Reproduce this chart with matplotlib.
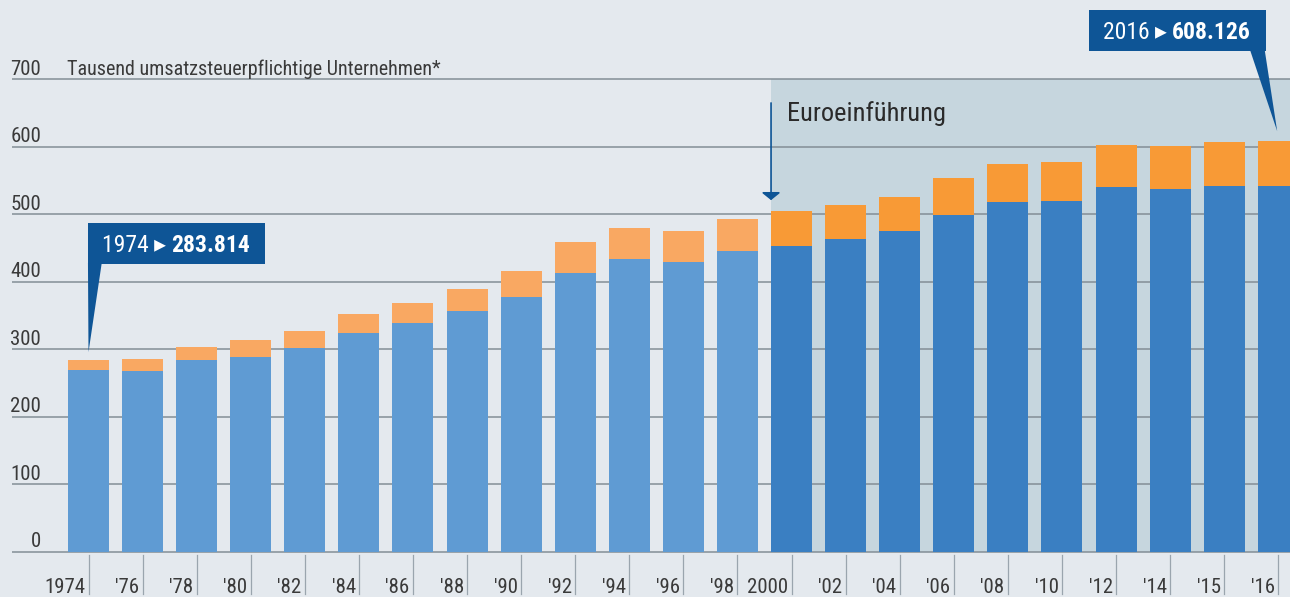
import matplotlib
matplotlib.use("Agg")
import matplotlib.pyplot as plt
from matplotlib import font_manager
from matplotlib.patches import Rectangle, Polygon

# data (thousands of VAT-liable companies)
labels = ['1974', "'76", "'78", "'80", "'82", "'84", "'86", "'88", "'90", "'92", "'94",
          "'96", "'98", '2000', "'02", "'04", "'06", "'08", "'10", "'12", "'14", "'15", "'16"]
base = [269.3, 267.9, 284.1, 288.6, 301.9, 324.1, 339.0, 356.7, 377.5, 413.0, 433.8,
        429.3, 445.6, 453.0, 463.4, 475.3, 499.0, 518.2, 519.7, 540.4, 537.5, 541.9, 541.9]
total = [283.814, 285.6, 303.4, 313.8, 327.1, 352.3, 368.6, 389.3, 416.0, 459.0, 479.7,
         475.0, 493.0, 504.9, 513.8, 525.6, 553.8, 574.5, 577.5, 602.7, 601.2, 607.0, 608.126]
yticks = [0, 100, 200, 300, 400, 500, 600, 700]
euro_idx = labels.index('2000')

bg = '#e4e9ee'
shade = '#c6d6de'
grid = '#838e96'
navy = '#0e5596'
txt = '#3a3a3a'

# condensed face if there is one, DejaVu for the arrow glyph
names = {f.name for f in font_manager.fontManager.ttflist}
fams = [f for f in ['Roboto Condensed', 'Archivo Narrow', 'Liberation Sans Narrow', 'Asap Condensed']
        if f in names][:1]
plt.rcParams['font.family'] = fams + ['DejaVu Sans']

fig = plt.figure(figsize=(12.9, 5.97), dpi=100, facecolor=bg)
ax = fig.add_axes([0, 0, 1, 1])
ax.set_facecolor(bg)
ax.axis('off')
ax.set_xlim(-1.6365, 22.217)
ax.set_ylim(-66.96, 817.5)

n = len(labels)
xs = list(range(n))
top = [t - b for t, b in zip(total, base)]
c_base = ['#5f9bd3' if i < euro_idx else '#3a7fc2' for i in xs]
c_top = ['#f9a862' if i < euro_idx else '#f89a36' for i in xs]
w = 0.758

# euro period shading
ax.fill_between([euro_idx - w / 2, 23], 0, 700, color=shade, lw=0, zorder=0)

# gridlines + y labels
for v in yticks:
    ax.plot([-1.415, 23], [v, v], color=grid, lw=1.1, zorder=1, solid_capstyle='butt')
    ax.text(-0.878, v + 7, str(v), ha='right', va='baseline', fontsize=15, color=txt)
ax.text(-0.398, 707, 'Tausend umsatzsteuerpflichtige Unternehmen*', ha='left',
        va='baseline', fontsize=14.5, color=txt)

ax.bar(xs, base, width=w, color=c_base, zorder=2)
ax.bar(xs, top, width=w, bottom=base, color=c_top, zorder=2)

# x labels with small separators
for i, lab in enumerate(labels):
    ax.plot([i, i], [-4.7, -63], color='#9aa5ae', lw=0.9, zorder=1)
    ax.text(i - 0.06, -61, lab, ha='right', va='baseline', fontsize=15, color=txt)

# Euro arrow
xe = euro_idx - w / 2
ax.annotate('', xy=(xe, 521), xytext=(xe, 665),
            arrowprops=dict(arrowstyle='-|>,head_width=0.56,head_length=0.45',
                            color=navy, lw=1.2, mutation_scale=10, shrinkA=0, shrinkB=0),
            zorder=4)
ax.text(xe + 0.3, 638, 'Euroeinführung', ha='left', va='baseline', fontsize=19, color='#2a2a2a')


def callout(i, year, box_left, box_bottom, tail, tip_dx, tip_gap):
    bw, bh = 3.27, 60
    ax.add_patch(Rectangle((box_left, box_bottom), bw, bh, color=navy, lw=0, zorder=5))
    ax.add_patch(Polygon([(tail[0], box_bottom + 1), (tail[1], box_bottom + 1),
                          (i + tip_dx, total[i] + tip_gap)],
                         closed=True, color=navy, lw=0, zorder=5))
    split = box_left + 1.535
    yb = box_bottom + 17.5
    ax.text(split, yb, year + ' \u25b8 ', ha='right', va='baseline', fontsize=17,
            color='white', zorder=6)
    ax.text(split, yb, f'{total[i]:.3f}', ha='left', va='baseline', fontsize=17,
            fontweight='bold', color='white', zorder=6)


callout(0, '1974', -0.01, 427, (-0.01, 0.245), 0.0, 12)
callout(n - 1, '2016', 18.5, 742, (21.48, 21.75), -0.02, 15)

fig.savefig('out.png', dpi=100, facecolor=bg)
